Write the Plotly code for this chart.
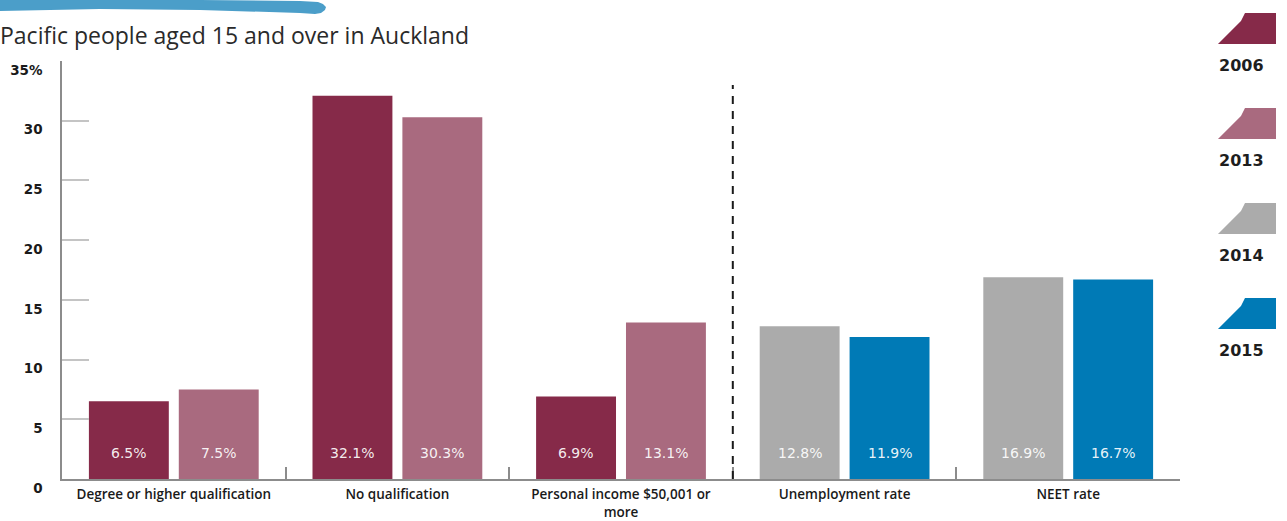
import plotly.graph_objects as go

# ---------------- data ----------------
categories = [
    "Degree or higher qualification",
    "No qualification",
    "Personal income $50,001 or<br>more",
    "Unemployment rate",
    "NEET rate",
]
years = ["2006", "2013", "2014", "2015"]
colors = ["#862a49", "#a96a7f", "#ababab", "#007ab6"]
v2006 = [6.5, 32.1, 6.9]
v2013 = [7.5, 30.3, 13.1]
v2014 = [12.8, 16.9]
v2015 = [11.9, 16.7]
ytick_vals = [0, 5, 10, 15, 20, 25, 30, 35]
ytick_text = ["0", "5", "10", "15", "20", "25", "30", "35%"]
title_text = "Pacific people aged 15 and over in Auckland"

# ---------------- layout geometry ----------------
W, H = 1287, 521
L, R, T, B = 62, 107, 61, 42
PW, PH = W - L - R, H - T - B


def px(x):
    return (x - L) / PW


def py(y):
    return (H - B - y) / PH


FONT = "Open Sans"
FONT2 = "DejaVu Sans"

series = [
    (categories[:3], v2006, years[0], colors[0], "a"),
    (categories[:3], v2013, years[1], colors[1], "b"),
    (categories[3:], v2014, years[2], colors[2], "a"),
    (categories[3:], v2015, years[3], colors[3], "b"),
]

fig = go.Figure()
annotations = []
for xs, ys, name, col, grp in series:
    fig.add_trace(go.Bar(
        x=xs, y=ys, name=name, marker=dict(color=col, line=dict(width=0)),
        offsetgroup=grp, showlegend=False, hoverinfo="x+y+name",
    ))
    for xv, yv in zip(xs, ys):
        annotations.append(dict(
            x=xv, y=0, xref="x", yref="y", text=f"{yv}%", showarrow=False,
            xshift=-45 if grp == "a" else 45, yshift=26,
            font=dict(family=FONT2, size=14, color="rgba(255,255,255,0.92)"),
        ))

# legend (custom swatches + year labels)
shapes = []
for i, (yr, col) in enumerate(zip(years, colors)):
    top = 13 + 95 * i
    left = 1218
    pts = [(0, 31), (7, 24), (13, 18), (19, 12), (23, 8), (27, 0), (58, 0), (58, 31)]
    path = "M " + " L ".join(f"{px(left + a):.5f},{py(top + b):.5f}" for a, b in pts) + " Z"
    shapes.append(dict(type="path", xref="paper", yref="paper", path=path,
                       fillcolor=col, line=dict(width=0), layer="above"))
    annotations.append(dict(
        x=px(left - 1), y=py(top + 52), xref="paper", yref="paper", text=yr,
        showarrow=False, xanchor="left", yanchor="middle",
        font=dict(family=FONT2, size=16, color="#1e1e1e", weight="bold"),
    ))

# brush stroke at top-left
brush_pts = [(0, -2), (100, -1), (200, 0), (300, 1), (318, 2), (323, 4), (326, 7),
             (325, 10), (321, 13), (315, 14), (300, 13), (200, 10), (100, 9), (0, 11)]
brush_path = "M " + " L ".join(f"{px(a):.5f},{py(b):.5f}" for a, b in brush_pts) + " Z"
shapes.append(dict(type="path", xref="paper", yref="paper", path=brush_path,
                   fillcolor="#4b9ec9", line=dict(width=0)))

# dashed separator
shapes.append(dict(type="line", xref="x", yref="y", x0=2.5, x1=2.5, y0=0, y1=33,
                   line=dict(color="#1a1a1a", width=2, dash="8px,7px")))

fig.update_layout(
    width=W, height=H,
    margin=dict(l=L, r=R, t=T, b=B, autoexpand=False),
    paper_bgcolor="white", plot_bgcolor="white",
    barmode="group", bargap=0.196, bargroupgap=0.111,
    title=dict(text=title_text, x=0, xref="container", xanchor="left",
               y=1 - 36 / H, yref="container", yanchor="middle",
               font=dict(family=FONT, size=23, color="#2a2a2a")),
    xaxis=dict(
        type="category", categoryorder="array", categoryarray=categories,
        automargin=False, tickangle=0,
        showline=True, linecolor="#8c8c8c", linewidth=1.5,
        ticks="inside", tickson="boundaries", ticklen=12, tickcolor="#8c8c8c",
        tickwidth=1.5, showgrid=False, zeroline=False, ticklabelstandoff=2,
        tickfont=dict(family=FONT, size=13.5, color="#1a1a1a", weight=600),
        range=[-0.5, 4.5], fixedrange=True,
    ),
    yaxis=dict(
        range=[0, 35], tickvals=ytick_vals, ticktext=ytick_text,
        automargin=False,
        showline=True, linecolor="#8c8c8c", linewidth=1.5,
        ticks="inside", ticklen=27, tickcolor="#c4c4c4", tickwidth=1.5,
        showgrid=False, zeroline=False, ticklabelshift=9, ticklabelstandoff=15,
        tickfont=dict(family=FONT2, size=13.5, color="#1a1a1a", weight="bold"),
        fixedrange=True,
    ),
    shapes=shapes,
    annotations=annotations,
)

fig.write_html("out.html", config={"displayModeBar": False},
               post_script="document.body.style.margin='0';")
